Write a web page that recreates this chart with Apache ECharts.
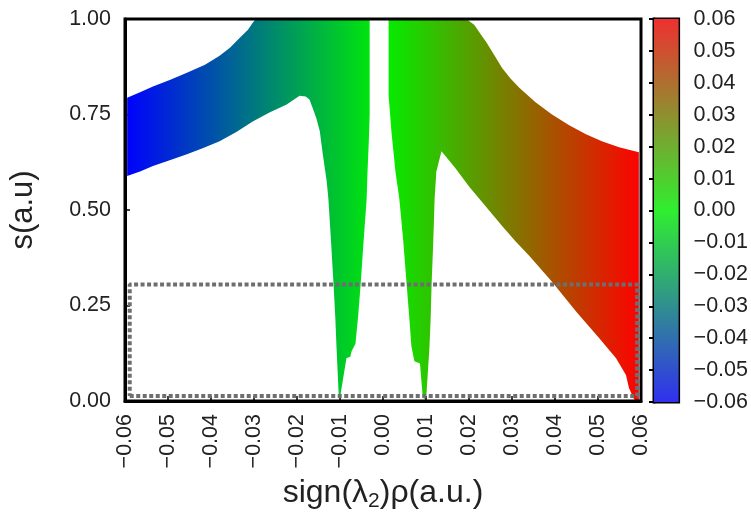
<!DOCTYPE html>
<html>
<head>
<meta charset="utf-8">
<script src="https://cdn.jsdelivr.net/npm/echarts@6/dist/echarts.min.js"></script>
<style>html,body{margin:0;padding:0;background:#fff;}#c{width:751px;height:517px;}</style>
</head>
<body>
<div id="c"></div>
<script>
// x tick values (sign(λ2)ρ) and y tick values (s)
const xTicks = [-0.06,-0.05,-0.04,-0.03,-0.02,-0.01,0.00,0.01,0.02,0.03,0.04,0.05,0.06];
const yTicks = [0.00,0.25,0.50,0.75,1.00];
const cbTicks = [-0.06,-0.05,-0.04,-0.03,-0.02,-0.01,0.00,0.01,0.02,0.03,0.04,0.05,0.06];

// Left (attractive) wing: upper and lower envelope of scattered points [sign(λ2)ρ, s]
const leftUpper = [
  [-0.0595,0.794],[-0.0565,0.808],[-0.0535,0.823],[-0.0496,0.840],[-0.0456,0.859],
  [-0.0414,0.880],[-0.0380,0.904],[-0.0356,0.925],[-0.0333,0.951],[-0.0314,0.972],
  [-0.0303,0.990],[-0.0296,1.000],[-0.0031,1.000]
];
const leftLower = [
  [-0.0595,0.589],[-0.0565,0.601],[-0.0535,0.615],[-0.0496,0.630],[-0.0456,0.646],
  [-0.0418,0.662],[-0.0380,0.680],[-0.0341,0.704],[-0.0303,0.732],[-0.0264,0.755],
  [-0.0224,0.776],[-0.0194,0.799],[-0.0180,0.797],[-0.0171,0.789],[-0.0164,0.768],
  [-0.0155,0.740],[-0.0147,0.706],[-0.0140,0.646],[-0.0131,0.576],[-0.0127,0.529],
  [-0.0121,0.420],[-0.0115,0.305],[-0.0111,0.220],[-0.0108,0.138],[-0.0103,0.016],
  [-0.0101,0.004],[-0.0099,0.016],[-0.0085,0.112],[-0.0076,0.116],[-0.0073,0.130],
  [-0.0064,0.150],[-0.0058,0.220],[-0.0052,0.305],[-0.0045,0.420],[-0.0038,0.529],
  [-0.0036,0.600],[-0.0033,0.680],[-0.0031,0.750]
];
// Right (repulsive) wing
const rightUpper = [
  [0.0013,1.000],[0.0194,1.000],[0.0212,0.985],[0.0226,0.962],[0.0240,0.940],
  [0.0259,0.905],[0.0277,0.872],[0.0296,0.845],[0.0317,0.820],[0.0354,0.783],
  [0.0393,0.750],[0.0433,0.722],[0.0472,0.698],[0.0509,0.680],[0.0549,0.664],
  [0.0595,0.651]
];
const rightLower = [
  [0.0013,0.800],[0.0020,0.700],[0.0029,0.600],[0.0038,0.529],[0.0047,0.420],
  [0.0055,0.305],[0.0061,0.220],[0.0066,0.143],[0.0073,0.104],[0.0086,0.098],
  [0.0092,0.016],[0.0096,0.004],[0.0101,0.016],[0.0108,0.140],[0.0111,0.220],
  [0.0113,0.305],[0.0117,0.420],[0.0120,0.529],[0.0124,0.600],[0.0136,0.654],
  [0.0168,0.610],[0.0201,0.560],[0.0240,0.508],[0.0277,0.458],[0.0308,0.418],
  [0.0340,0.380],[0.0393,0.312],[0.0449,0.234],[0.0503,0.164],[0.0542,0.112],
  [0.0565,0.068],[0.0572,0.034],[0.0584,0.004],[0.0595,0.000]
];
// dashed selection box corners
const boxX = [-0.0589, 0.0591];
const boxY = [0.013, 0.305];

const pieces = [
  {upper: leftUpper, lower: leftLower},
  {upper: rightUpper, lower: rightLower}
];

const fmt = v => { const s = (Math.round(v*100)/100).toFixed(2); return s.replace('-', '\u2212'); };
const FONT = 'Liberation Sans';
const FS = 21.5;
const chart = echarts.init(document.getElementById('c'), null, {renderer: 'canvas'});

const boxData = [[boxX[0],boxY[0]],[boxX[1],boxY[0]],[boxX[1],boxY[1]],[boxX[0],boxY[1]],[boxX[0],boxY[0]]];

chart.setOption({
  animation: false,
  backgroundColor: '#fff',
  grid: [
    {left: 125, right: 110, top: 19, bottom: 114, show: true, borderColor: '#000', borderWidth: 3, backgroundColor: 'transparent', z: 10},
    {left: 654, right: 72, top: 19, bottom: 115, show: true, borderColor: '#000', borderWidth: 3, backgroundColor: 'transparent'}
  ],
  xAxis: [
    {type: 'value', gridIndex: 0, min: -0.06, max: 0.06, interval: 0.01,
     axisLine: {show: true, onZero: false, lineStyle: {color: '#000', width: 3}},
     axisTick: {show: true, inside: true, length: 5, lineStyle: {color: '#000', width: 1.5}},
     splitLine: {show: false},
     axisLabel: {rotate: 90, margin: 13, color: '#222', fontSize: FS, fontFamily: FONT, formatter: fmt},
     name: 'sign(λ{sub|2})ρ(a.u.)', nameLocation: 'middle', nameGap: 73,
     nameTextStyle: {fontSize: 32, color: '#222', fontFamily: FONT,
       rich: {sub: {fontSize: 21, color: '#222', fontFamily: FONT, padding: [17,0,0,0], verticalAlign: 'bottom'}}}
    },
    {type: 'value', gridIndex: 1, min: 0, max: 1, show: false}
  ],
  yAxis: [
    {type: 'value', gridIndex: 0, min: 0, max: 1, interval: 0.25,
     axisLine: {show: true, onZero: false, lineStyle: {color: '#000', width: 3}},
     axisTick: {show: true, inside: true, length: 5, lineStyle: {color: '#000', width: 1.5}},
     splitLine: {show: false},
     axisLabel: {margin: 14, color: '#222', fontSize: FS, fontFamily: FONT, formatter: fmt},
     name: 's(a.u)', nameLocation: 'middle', nameGap: 86, nameRotate: 90,
     nameTextStyle: {fontSize: 31, color: '#222', fontFamily: FONT}
    },
    {type: 'value', gridIndex: 1, min: -0.06, max: 0.06, interval: 0.01, position: 'right',
     axisLine: {show: true, lineStyle: {color: '#000', width: 3}},
     axisTick: {show: true, inside: true, length: 5, lineStyle: {color: '#000', width: 2}},
     splitLine: {show: false},
     axisLabel: {margin: 15, color: '#222', fontSize: FS, fontFamily: FONT, formatter: fmt}
    }
  ],
  series: [
    {
      type: 'custom', xAxisIndex: 0, yAxisIndex: 0, clip: true, z: 2,
      data: pieces.map((p, i) => [i]),
      renderItem: function (params, api) {
        const p = pieces[params.dataIndex];
        const pts = p.upper.concat(p.lower.slice().reverse()).map(q => api.coord(q));
        const xa = api.coord([-0.06, 0])[0], xb = api.coord([0.06, 0])[0];
        return {
          type: 'polygon', shape: {points: pts},
          style: {fill: new echarts.graphic.LinearGradient(xa, 0, xb, 0, [
            {offset: 0, color: '#0000ff'}, {offset: 0.5, color: '#00f000'}, {offset: 1, color: '#ff0000'}
          ], true), stroke: null}
        };
      }
    },
    {
      type: 'line', xAxisIndex: 0, yAxisIndex: 0, data: boxData, symbol: 'none', z: 5,
      lineStyle: {color: '#6e6e6e', width: 4, type: [4, 2.5]}
    },
    {
      type: 'custom', xAxisIndex: 1, yAxisIndex: 1, z: 1,
      data: [[0, cbTicks[0], 1, cbTicks[cbTicks.length-1]]],
      renderItem: function (params, api) {
        const a = api.coord([api.value(0), api.value(3)]);
        const b = api.coord([api.value(2), api.value(1)]);
        return {
          type: 'rect', shape: {x: a[0], y: a[1], width: b[0]-a[0], height: b[1]-a[1]},
          style: {fill: new echarts.graphic.LinearGradient(0, 0, 0, 1, [
            {offset: 0, color: '#ee3030'}, {offset: 0.5, color: '#30ee30'}, {offset: 1, color: '#3030ee'}
          ])}
        };
      }
    }
  ]
});
</script>
</body>
</html>
